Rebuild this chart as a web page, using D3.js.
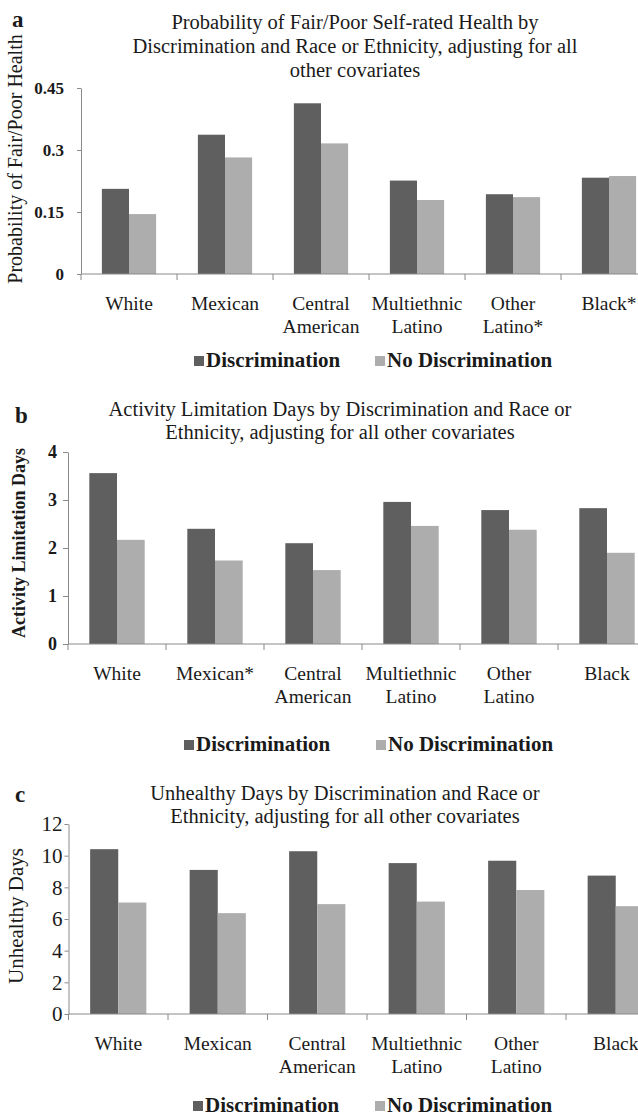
<!DOCTYPE html>
<html>
<head>
<meta charset="utf-8">
<script src="https://cdn.jsdelivr.net/npm/d3@7"></script>
<style>
    body { margin: 0; background: #fff; }
    text { font-family: "Liberation Serif", "Times New Roman", serif; fill: #1a1a1a; }
</style>
</head>
<body>
<div id="chart"></div>
<script>
// Legend / series names
var seriesNames = ["Discrimination", "No Discrimination"];
var seriesColors = ["#5f5f5f", "#adadad"];

// Panel a: probability of fair/poor self-rated health
var labelsA = [["White"], ["Mexican"], ["Central", "American"], ["Multiethnic", "Latino"], ["Other", "Latino*"], ["Black*"]];
var discA = [0.206, 0.337, 0.413, 0.226, 0.193, 0.233];
var noDiscA = [0.145, 0.282, 0.316, 0.179, 0.186, 0.237];
var ticksA = [0, 0.15, 0.3, 0.45];
var titleA = ["Probability of Fair/Poor Self-rated Health by", "Discrimination and Race or Ethnicity, adjusting for all", "other covariates"];
var yTitleA = "Probability of Fair/Poor Health";

// Panel b: activity limitation days
var labelsB = [["White"], ["Mexican*"], ["Central", "American"], ["Multiethnic", "Latino"], ["Other", "Latino"], ["Black"]];
var discB = [3.56, 2.40, 2.10, 2.96, 2.79, 2.83];
var noDiscB = [2.17, 1.74, 1.54, 2.46, 2.38, 1.90];
var ticksB = [0, 1, 2, 3, 4];
var titleB = ["Activity Limitation Days by Discrimination and Race or", "Ethnicity, adjusting for all other covariates"];
var yTitleB = "Activity Limitation Days";

// Panel c: unhealthy days
var labelsC = [["White"], ["Mexican"], ["Central", "American"], ["Multiethnic", "Latino"], ["Other", "Latino"], ["Black"]];
var discC = [10.41, 9.10, 10.28, 9.53, 9.68, 8.74];
var noDiscC = [7.04, 6.37, 6.94, 7.10, 7.83, 6.81];
var ticksC = [0, 2, 4, 6, 8, 10, 12];
var titleC = ["Unhealthy Days by Discrimination and Race or", "Ethnicity, adjusting for all other covariates"];
var yTitleC = "Unhealthy Days";

// SVG area
var svgWidth = 638;
var svgHeight = 1116;

var svg = d3.select("#chart")
    .append("svg")
    .attr("width", svgWidth)
    .attr("height", svgHeight);

var axisColor = "#8a8a8a";

// Draws one bar chart panel
function drawPanel(labels, disc, noDisc, ticks, title, yTitle, layout) {
    var g = svg.append("g");
    var names = labels.map(d => d.join(" "));
    var rows = names.map((n, i) => ({ name: n, lines: labels[i], values: [disc[i], noDisc[i]] }));

    // Scales
    var x = d3.scaleBand()
        .domain(names)
        .range([layout.axisX, layout.axisX + layout.band * names.length]);

    var xSub = d3.scaleBand()
        .domain(d3.range(seriesNames.length))
        .range([0, x.bandwidth()])
        .paddingOuter(0.77);

    var y = d3.scaleLinear()
        .domain([0, ticks[ticks.length - 1]])
        .range([layout.y0, layout.y1]);

    // Panel letter
    g.append("text")
        .attr("x", layout.letterX)
        .attr("y", layout.letterY)
        .style("font-weight", "bold")
        .style("font-size", "23px")
        .text(layout.letter);

    // Title
    g.append("text")
        .attr("text-anchor", "middle")
        .style("font-size", "20.5px")
        .selectAll("tspan")
        .data(title)
        .enter().append("tspan")
        .attr("x", layout.titleX)
        .attr("y", (d, i) => layout.titleY + i * layout.titleLine)
        .text(d => d);

    // Bars
    var groups = g.selectAll(".cat")
        .data(rows)
        .enter().append("g")
        .attr("class", "cat")
        .attr("transform", d => `translate(${x(d.name)},0)`);

    groups.selectAll("rect")
        .data(d => d.values)
        .enter().append("rect")
        .attr("x", (d, i) => xSub(i))
        .attr("width", xSub.bandwidth())
        .attr("y", d => y(d))
        .attr("height", d => y(0) - y(d))
        .attr("fill", (d, i) => seriesColors[i]);

    // Y axis
    var leftAxis = d3.axisLeft(y)
        .tickValues(ticks)
        .tickFormat(d => String(d))
        .tickSize(layout.tickSize)
        .tickSizeOuter(0)
        .tickPadding(layout.tickPad);

    var yAxis = g.append("g")
        .attr("transform", `translate(${layout.axisX},0)`)
        .call(leftAxis);
    yAxis.select(".domain").attr("stroke", axisColor);
    yAxis.selectAll(".tick line").attr("stroke", axisColor);
    yAxis.selectAll(".tick text")
        .attr("fill", "#1a1a1a")
        .style("font-family", "'Liberation Serif', serif")
        .style("font-size", layout.tickFont)
        .style("font-weight", layout.tickWeight);

    // X axis line and boundary ticks
    g.append("line")
        .attr("x1", x.range()[0])
        .attr("x2", x.range()[1])
        .attr("y1", y(0))
        .attr("y2", y(0))
        .attr("stroke", axisColor);

    g.selectAll(".xtick")
        .data(names)
        .enter().append("line")
        .attr("x1", d => x(d))
        .attr("x2", d => x(d))
        .attr("y1", y(0))
        .attr("y2", y(0) + 6)
        .attr("stroke", axisColor);

    // Category labels
    g.selectAll(".xlabel")
        .data(rows)
        .enter().append("text")
        .attr("text-anchor", "middle")
        .style("font-size", "19.5px")
        .selectAll("tspan")
        .data(d => d.lines.map(l => ({ line: l, cx: x(d.name) + x.bandwidth() / 2 })))
        .enter().append("tspan")
        .attr("x", d => d.cx)
        .attr("y", (d, i) => layout.labelY + i * 23)
        .text(d => d.line);

    // Y axis title
    g.append("text")
        .attr("transform", `translate(${layout.yTitleX},${layout.yTitleY}) rotate(-90)`)
        .attr("text-anchor", "middle")
        .style("font-size", layout.yTitleFont)
        .style("font-weight", layout.yTitleWeight)
        .text(yTitle);

    // Legend
    seriesNames.forEach(function(s, i) {
        g.append("rect")
            .attr("x", layout.legendX[i])
            .attr("y", layout.legendY - 11)
            .attr("width", 10)
            .attr("height", 10)
            .attr("fill", seriesColors[i]);
        g.append("text")
            .attr("x", layout.legendX[i] + 12)
            .attr("y", layout.legendY)
            .style("font-size", "21px")
            .style("font-weight", "bold")
            .text(s);
    });
}

drawPanel(labelsA, discA, noDiscA, ticksA, titleA, yTitleA, {
    letter: "a", letterX: 12, letterY: 27,
    titleX: 355, titleY: 29, titleLine: 24,
    axisX: 81, band: 96, y0: 274, y1: 88,
    tickSize: 4, tickPad: 13, tickFont: "17px", tickWeight: "bold",
    labelY: 310,
    yTitleX: 22, yTitleY: 159, yTitleFont: "20px", yTitleWeight: "normal",
    legendX: [194, 375], legendY: 367
});

drawPanel(labelsB, discB, noDiscB, ticksB, titleB, yTitleB, {
    letter: "b", letterX: 15, letterY: 423,
    titleX: 340, titleY: 416, titleLine: 23,
    axisX: 68, band: 98, y0: 644, y1: 452,
    tickSize: 5, tickPad: 6, tickFont: "18px", tickWeight: "bold",
    labelY: 680,
    yTitleX: 25, yTitleY: 543, yTitleFont: "18px", yTitleWeight: "bold",
    legendX: [184, 376], legendY: 751
});

drawPanel(labelsC, discC, noDiscC, ticksC, titleC, yTitleC, {
    letter: "c", letterX: 15, letterY: 802,
    titleX: 345, titleY: 800, titleLine: 23,
    axisX: 68.5, band: 99.5, y0: 1014, y1: 824,
    tickSize: 4, tickPad: 2, tickFont: "21px", tickWeight: "normal",
    labelY: 1050,
    yTitleX: 23, yTitleY: 916, yTitleFont: "21px", yTitleWeight: "normal",
    legendX: [193, 375], legendY: 1112
});
</script>
</body>
</html>
